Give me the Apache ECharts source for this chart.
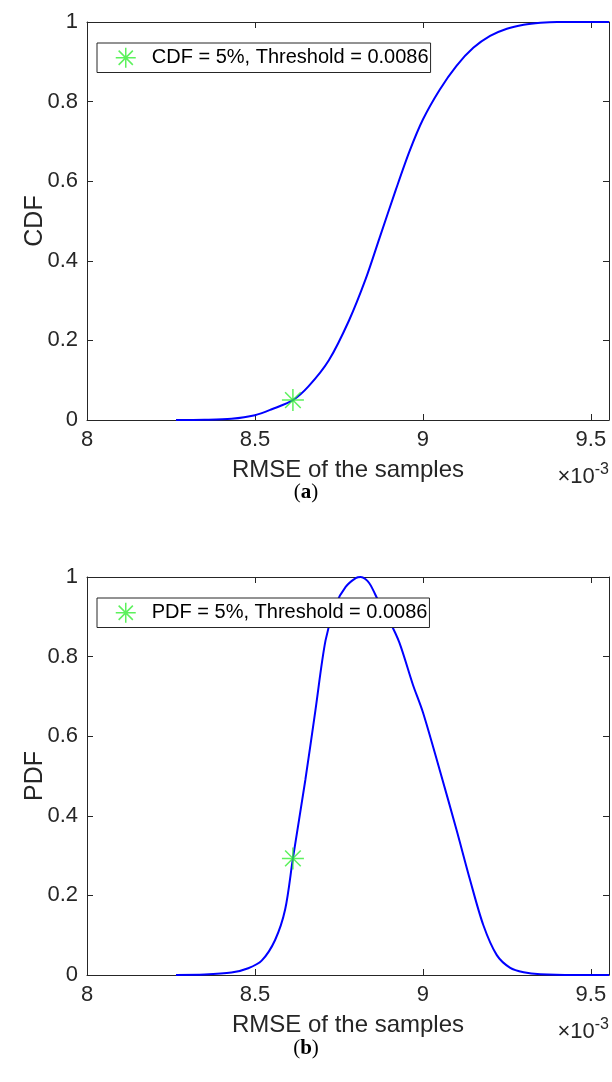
<!DOCTYPE html>
<html><head><meta charset="utf-8">
<script src="https://cdn.jsdelivr.net/npm/echarts@6/dist/echarts.min.js"></script>
<style>html,body{margin:0;padding:0;background:#fff}#c{width:612px;height:1082px}</style>
</head><body><div id="c"></div>
<script>
const xTickLabels = ['8', '8.5', '9', '9.5'];
const yTickLabels = ['0', '0.2', '0.4', '0.6', '0.8', '1'];
const cdfX = [8.265, 8.35, 8.43, 8.5, 8.55, 8.613, 8.66, 8.72, 8.78, 8.83, 8.87, 8.92, 8.96, 9.0, 9.05, 9.1, 9.15, 9.2, 9.25, 9.3, 9.35, 9.4, 9.554];
const cdfY = [0, 0.0005, 0.003, 0.012, 0.027, 0.05, 0.085, 0.15, 0.25, 0.355, 0.455, 0.58, 0.675, 0.755, 0.83, 0.89, 0.935, 0.965, 0.983, 0.993, 0.998, 1, 1];
const pdfX = [8.265, 8.35, 8.43, 8.48, 8.52, 8.56, 8.59, 8.613, 8.65, 8.68, 8.71, 8.74, 8.77, 8.8, 8.815, 8.84, 8.87, 8.9, 8.93, 8.97, 9.0, 9.05, 9.1, 9.14, 9.18, 9.22, 9.26, 9.3, 9.35, 9.45, 9.554];
const pdfY = [0, 0.001, 0.006, 0.017, 0.036, 0.088, 0.165, 0.293, 0.49, 0.665, 0.84, 0.93, 0.975, 0.997, 1, 0.985, 0.935, 0.89, 0.835, 0.73, 0.66, 0.515, 0.365, 0.24, 0.125, 0.05, 0.018, 0.007, 0.002, 0, 0];
const cdfMarker = [8.613, 0.05];
const pdfMarker = [8.613, 0.293];
const cdfLegend = 'CDF = 5%, Threshold = 0.0086';
const pdfLegend = 'PDF = 5%, Threshold = 0.0086';
const captions = ['a', 'b'];
const multiplier = ['×10', '-3'];

const XMIN = 8, XMAX = 9.554;
const ink = '#262626';
const font = 'Liberation Sans, Arial, Helvetica, sans-serif';
const serif = 'Liberation Serif, DejaVu Serif, serif';
const star = 'path://M10,0L10,20M0,10L20,10M2.9,2.9L17.1,17.1M17.1,2.9L2.9,17.1';
const green = '#33ee33';

const zip = (a, b) => a.map((v, i) => [v, b[i]]);
const xFmt = v => { const i = Math.round((v - XMIN) / 0.5); return Math.abs(v - XMIN - i * 0.5) < 1e-6 ? (xTickLabels[i] || '') : ''; };
const yFmt = v => { const i = Math.round(v / 0.2); return yTickLabels[i] || ''; };

const grids = [
  { left: 87, top: 22, width: 522, height: 398 },
  { left: 87, top: 577, width: 522, height: 398 }
];
function xAx(g, pos, show) {
  return {
    type: 'value', gridIndex: g, position: pos, min: XMIN, max: XMAX, interval: 0.5,
    name: show ? 'RMSE of the samples' : '', nameLocation: 'middle', nameGap: 38, nameMoveOverlap: false,
    nameTextStyle: { fontFamily: font, fontSize: 24, color: ink },
    axisLine: { show: true, onZero: false, lineStyle: { color: ink, width: 1 } },
    axisTick: { show: true, inside: true, length: 6, lineStyle: { color: ink } },
    axisLabel: { show: show, formatter: xFmt, fontFamily: font, fontSize: 22, color: ink, margin: 9, showMaxLabel: false },
    splitLine: { show: false }
  };
}
function yAx(g, pos, show, name) {
  return {
    type: 'value', gridIndex: g, position: pos, min: 0, max: 1, interval: 0.2,
    name: show ? name : '', nameLocation: 'middle', nameGap: 39, nameMoveOverlap: false,
    nameTextStyle: { fontFamily: font, fontSize: 25, color: ink },
    axisLine: { show: true, onZero: false, lineStyle: { color: ink, width: 1 } },
    axisTick: { show: true, inside: true, length: 6, lineStyle: { color: ink } },
    axisLabel: { show: show, formatter: yFmt, fontFamily: font, fontSize: 22, color: ink, margin: 9 },
    splitLine: { show: false }
  };
}
function legend(top, name) {
  return {
    left: 97, top: top, orient: 'vertical', data: [{ name: name, icon: star }],
    itemWidth: 36, itemHeight: 20, padding: [4, 2, 4, 18],
    backgroundColor: '#fff', borderColor: ink, borderWidth: 1, borderRadius: 0,
    selectedMode: false,
    itemStyle: { color: 'transparent', borderColor: green, borderWidth: 1.5 },
    textStyle: { fontFamily: font, fontSize: 20, color: '#000', padding: [0, 0, 0, 3] }
  };
}
function lineSeries(xi, yi, data) {
  return {
    type: 'line', xAxisIndex: xi, yAxisIndex: yi, data: data, smooth: 0.3,
    showSymbol: false, symbol: 'none', lineStyle: { color: '#0000ff', width: 2 }, silent: true, clip: false
  };
}
function markerSeries(xi, yi, name, pt) {
  return {
    type: 'scatter', name: name, xAxisIndex: xi, yAxisIndex: yi, data: [pt], symbol: star, symbolSize: 22,
    itemStyle: { color: 'transparent', borderColor: green, borderWidth: 1.5 }, z: 5, silent: true
  };
}
function caption(top, letter) {
  return {
    left: 'center', top: top, text: '{p|(}{b|' + letter + '}{p|)}',
    textStyle: { rich: {
      p: { fontFamily: serif, fontSize: 21, fontWeight: 'normal', color: '#000' },
      b: { fontFamily: serif, fontSize: 21, fontWeight: 'bold', color: '#000' }
    } }
  };
}
function mult(top) {
  return {
    right: 3, top: top, text: '{a|' + multiplier[0] + '}{b|' + multiplier[1] + '}', padding: 0,
    textStyle: { rich: {
      a: { fontFamily: font, fontSize: 22, fontWeight: 'normal', color: ink, verticalAlign: 'bottom', lineHeight: 26 },
      b: { fontFamily: font, fontSize: 16, fontWeight: 'normal', color: ink, verticalAlign: 'top', lineHeight: 26, padding: [0, 0, 10, 0] }
    } }
  };
}

const chart = echarts.init(document.getElementById('c'), null, { renderer: 'canvas' });
chart.setOption({
  animation: false,
  backgroundColor: '#fff',
  title: [caption(477, captions[0]), caption(1033, captions[1]), mult(462), mult(1017)],
  grid: grids,
  xAxis: [xAx(0, 'bottom', true), xAx(0, 'top', false), xAx(1, 'bottom', true), xAx(1, 'top', false)],
  yAxis: [yAx(0, 'left', true, 'CDF'), yAx(0, 'right', false), yAx(1, 'left', true, 'PDF'), yAx(1, 'right', false)],
  legend: [legend(43, cdfLegend), legend(598, pdfLegend)],
  series: [
    lineSeries(0, 0, zip(cdfX, cdfY)),
    markerSeries(0, 0, cdfLegend, cdfMarker),
    lineSeries(2, 2, zip(pdfX, pdfY)),
    markerSeries(2, 2, pdfLegend, pdfMarker)
  ]
});
</script></body></html>
